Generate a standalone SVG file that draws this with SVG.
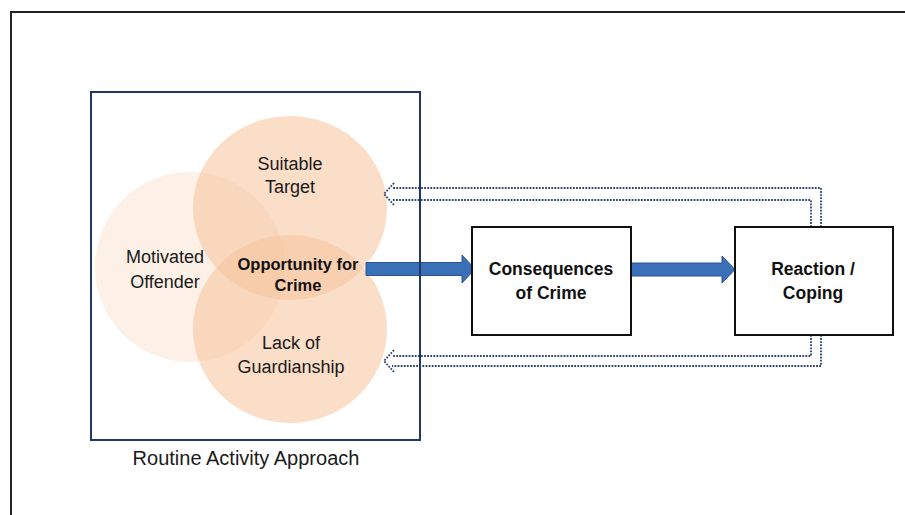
<svg xmlns="http://www.w3.org/2000/svg" width="905" height="515" viewBox="0 0 905 515">
<style>
.c{fill:#f6c29a;}
.t{font-family:"Liberation Sans",Arial,sans-serif;font-size:18px;fill:#1a1a1a;text-anchor:middle;}
.b{font-family:"Liberation Sans",Arial,sans-serif;font-size:17.5px;font-weight:bold;fill:#111;text-anchor:middle;}
.blk{fill:#3a70b8;stroke:#2f528f;stroke-width:1;}
.dot{fill:none;stroke:#2a4574;stroke-width:1.8;stroke-dasharray:1.8 1.3;}
.box{fill:#fff;stroke:#111;stroke-width:2;}
</style>
<rect width="905" height="515" fill="#fff"/>
<rect x="11" y="12" width="1000" height="600" fill="none" stroke="#222" stroke-width="2"/>
<g id="circles">
<g id="motivated-offender">
<circle class="c" cx="190" cy="267" r="95" opacity="0.25"/>
<text class="t" x="165" y="263">Motivated</text>
<text class="t" x="165" y="288">Offender</text>
</g>
<g id="suitable-target">
<ellipse class="c" cx="290" cy="208" rx="97" ry="92" opacity="0.55"/>
</g>
<g id="lack-of-guardianship">
<ellipse class="c" cx="290" cy="329" rx="97" ry="94" opacity="0.55"/>
</g>
<text class="t" x="290" y="170">Suitable</text>
<text class="t" x="290" y="193">Target</text>
<text class="t" x="291" y="349">Lack of</text>
<text class="t" x="291" y="373">Guardianship</text>
<g id="opportunity">
<text class="b" x="298" y="270" style="font-size:16.5px">Opportunity for</text>
<text class="b" x="298" y="291" style="font-size:16.5px">Crime</text>
</g>
</g>
<g id="connectors">
<polygon class="blk" points="366,262.5 462,262.5 462,255 475,269 462,283 462,275.5 366,275.5"/>
<polygon class="blk" points="631,263 722,263 722,256 735,269.5 722,283 722,276 631,276"/>
<path class="dot" d="M821,227 V188 H392"/>
<path class="dot" d="M811,227 V200 H392"/>
<path class="dot" d="M394,183 L384,194 L394,205"/>
<path class="dot" d="M821,335 V366 H392"/>
<path class="dot" d="M811,335 V356 H392"/>
<path class="dot" d="M394,350 L384,361 L394,372"/>
</g>
<g id="routine-activity-approach">
<rect x="91" y="92" width="329" height="348" fill="none" stroke="#203864" stroke-width="2"/>
<text class="t" x="246" y="465" style="font-size:20px">Routine Activity Approach</text>
</g>
<g id="consequences">
<rect class="box" x="472" y="227" width="159" height="108"/>
<text class="b" x="551" y="275">Consequences</text>
<text class="b" x="551" y="299">of Crime</text>
</g>
<g id="reaction">
<rect class="box" x="735" y="227" width="158" height="108"/>
<text class="b" x="813" y="275">Reaction /</text>
<text class="b" x="813" y="299">Coping</text>
</g>
</svg>
